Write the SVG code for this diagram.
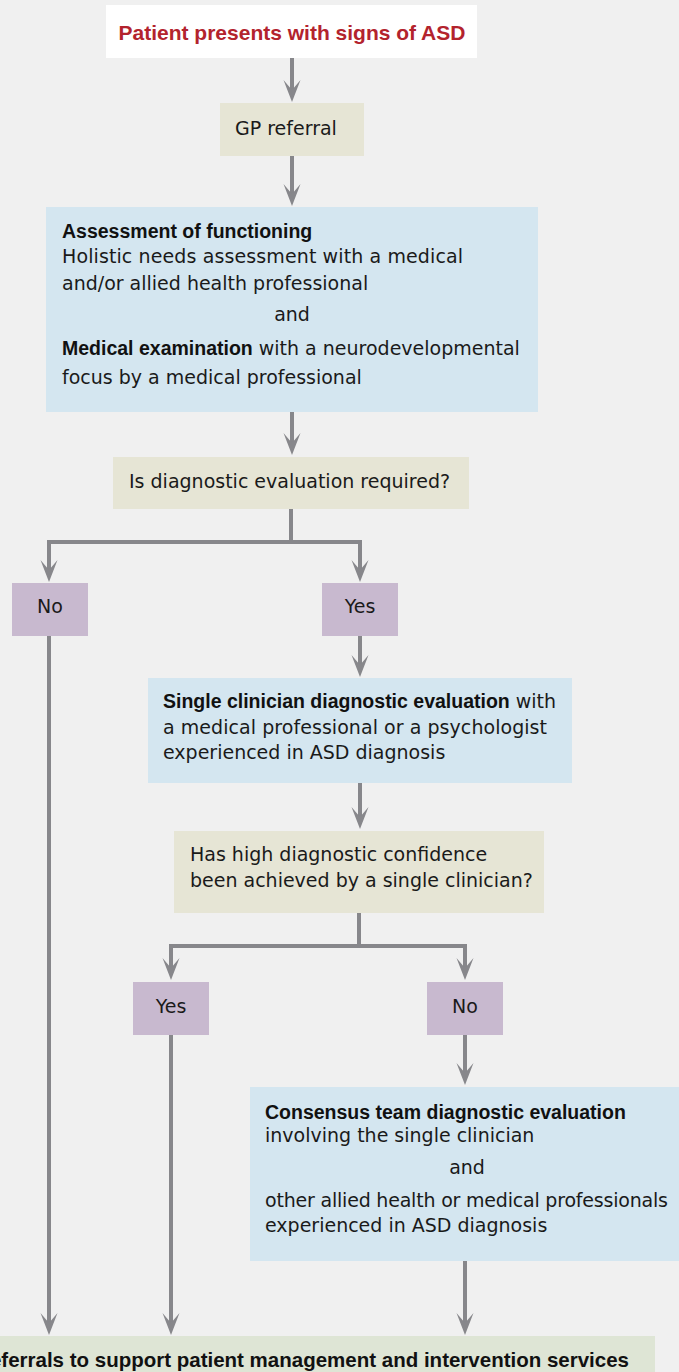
<svg xmlns="http://www.w3.org/2000/svg" width="679" height="1372" viewBox="0 0 679 1372">
<style>
.bg{fill:#f0f0f0}
.start{fill:#ffffff}
.beige{fill:#e6e5d5}
.blue{fill:#d4e6f0}
.purple{fill:#c8b9cf}
.green{fill:#dee5d5}
.t{font-family:"DejaVu Sans",sans-serif;font-size:19px;fill:#1a1a1a}
.b{font-family:"Liberation Sans",Arial,sans-serif;font-weight:bold;font-size:19.5px;fill:#111}
.title{font-family:"Liberation Sans",Arial,sans-serif;font-weight:bold;font-size:21px;fill:#b3232d}
.fin{font-family:"Liberation Sans",Arial,sans-serif;font-weight:bold;font-size:20.5px;fill:#111}
.c{text-anchor:middle}
.conn path{fill:none;stroke:#87878b;stroke-width:4;stroke-linejoin:miter;marker-end:url(#ah)}
</style>
<defs>
<marker id="ah" markerUnits="userSpaceOnUse" viewBox="-12 -10 26 20" markerWidth="26" markerHeight="20" refX="0" refY="0" orient="auto" overflow="visible">
<path d="M12,0 L-10,-8.5 L0,0 L-10,8.5 Z" fill="#87878b"/>
</marker>
</defs>
<rect class="bg" x="0" y="0" width="679" height="1372"/>

<g id="conn" class="conn">
<path d="M292,58 V90"/>
<path d="M292,156 V194"/>
<path d="M292,412 V443"/>
<path d="M291,509 V542 H49 V570"/>
<path d="M291,542 H360 V570"/>
<path d="M49,636 V1323"/>
<path d="M360,636 V665"/>
<path d="M360,783 V817"/>
<path d="M359,913 V946 H171 V968"/>
<path d="M359,946 H465 V968"/>
<path d="M171,1035 V1323"/>
<path d="M465,1035 V1073"/>
<path d="M465,1261 V1323"/>
</g>

<g id="start">
<rect class="start" x="106" y="5" width="371" height="53"/>
<text class="title c" x="292" y="40">Patient presents with signs of ASD</text>
</g>

<g id="gp">
<rect class="beige" x="220" y="103" width="144" height="53"/>
<text class="t" x="235" y="135">GP referral</text>
</g>

<g id="assessment">
<rect class="blue" x="46" y="207" width="492" height="205"/>
<text class="b" x="62" y="238">Assessment of functioning</text>
<text class="t" x="62" y="263" textLength="401" lengthAdjust="spacing">Holistic needs assessment with a medical</text>
<text class="t" x="62" y="290">and/or allied health professional</text>
<text class="t c" x="292" y="321">and</text>
<text x="62" y="355"><tspan class="b">Medical examination</tspan><tspan class="t"> with a neurodevelopmental</tspan></text>
<text class="t" x="62" y="384">focus by a medical professional</text>
</g>

<g id="decision1">
<rect class="beige" x="113" y="457" width="356" height="52"/>
<text class="t" x="129" y="488">Is diagnostic evaluation required?</text>
</g>

<g id="no1">
<rect class="purple" x="12" y="583" width="76" height="53"/>
<text class="t c" x="50" y="613">No</text>
</g>

<g id="yes1">
<rect class="purple" x="322" y="583" width="76" height="53"/>
<text class="t c" x="360" y="613">Yes</text>
</g>

<g id="single">
<rect class="blue" x="148" y="678" width="424" height="105"/>
<text x="163" y="708"><tspan class="b">Single clinician diagnostic evaluation</tspan><tspan class="t"> with</tspan></text>
<text class="t" x="163" y="734" textLength="384" lengthAdjust="spacing">a medical professional or a psychologist</text>
<text class="t" x="163" y="759">experienced in ASD diagnosis</text>
</g>

<g id="decision2">
<rect class="beige" x="174" y="831" width="370" height="82"/>
<text class="t" x="190" y="861">Has high diagnostic confidence</text>
<text class="t" x="190" y="887">been achieved by a single clinician?</text>
</g>

<g id="yes2">
<rect class="purple" x="133" y="982" width="76" height="53"/>
<text class="t c" x="171" y="1013">Yes</text>
</g>

<g id="no2">
<rect class="purple" x="427" y="982" width="76" height="53"/>
<text class="t c" x="465" y="1013">No</text>
</g>

<g id="consensus">
<rect class="blue" x="250" y="1087" width="429" height="174"/>
<text class="b" x="265" y="1119">Consensus team diagnostic evaluation</text>
<text class="t" x="265" y="1142">involving the single clinician</text>
<text class="t c" x="467" y="1174">and</text>
<text class="t" x="265" y="1207" textLength="403" lengthAdjust="spacing">other allied health or medical professionals</text>
<text class="t" x="265" y="1232">experienced in ASD diagnosis</text>
</g>

<g id="referrals">
<rect class="green" x="0" y="1336" width="655" height="36"/>
<text class="fin" x="629" y="1367" text-anchor="end">Referrals to support patient management and intervention services</text>
</g>
</svg>
